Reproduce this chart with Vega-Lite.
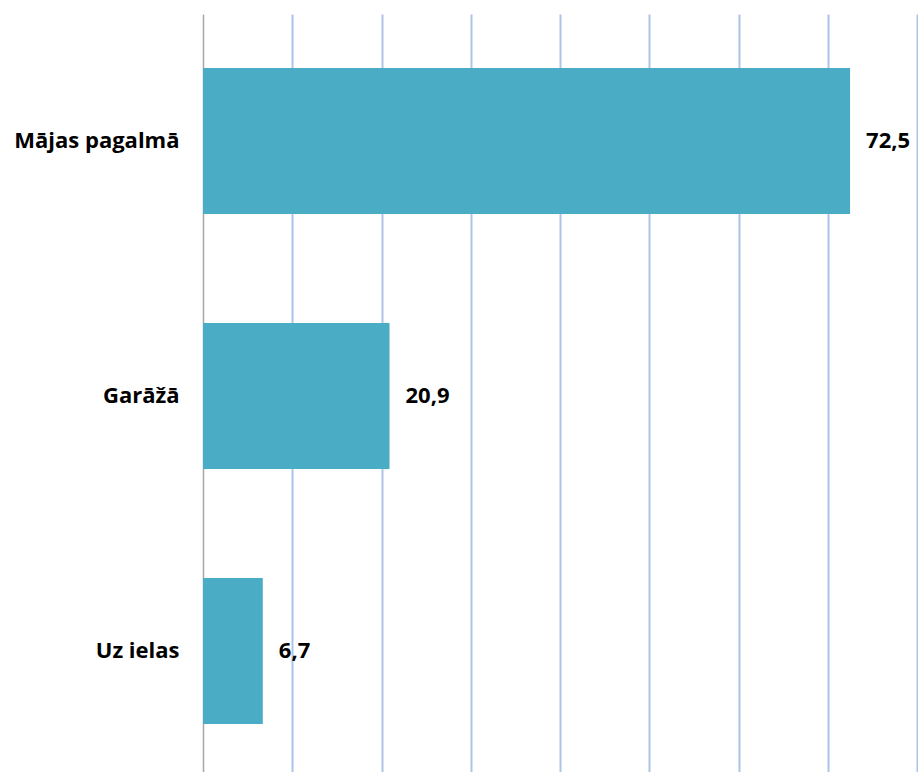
{
  "$schema": "https://vega.github.io/schema/vega-lite/v6.json",
  "autosize": "none",
  "width": 714,
  "height": 764,
  "padding": {"left": 203, "top": 14, "right": 1, "bottom": 0},
  "background": "white",
  "data": {
    "values": [
      {"category": "Mājas pagalmā", "value": 72.5, "label": "72,5"},
      {"category": "Garāžā", "value": 20.9, "label": "20,9"},
      {"category": "Uz ielas", "value": 6.7, "label": "6,7"}
    ]
  },
  "encoding": {
    "y": {
      "field": "category",
      "type": "nominal",
      "sort": null,
      "scale": {"paddingInner": 0.4275, "paddingOuter": 0.2118},
      "axis": {
        "title": null,
        "ticks": false,
        "domain": true,
        "domainColor": "#a6a6a6",
        "domainWidth": 1.5,
        "labelFont": "Open Sans",
        "labelFontWeight": "bold",
        "labelFontSize": 22,
        "labelColor": "#000000",
        "labelPadding": 24
      }
    },
    "x": {
      "field": "value",
      "type": "quantitative",
      "scale": {"domain": [0, 80], "nice": false},
      "axis": {
        "title": null,
        "values": [10, 20, 30, 40, 50, 60, 70, 80],
        "labels": false,
        "ticks": false,
        "domain": false,
        "grid": true,
        "gridColor": "#adc3ea",
        "gridWidth": 2
      }
    }
  },
  "layer": [
    {"mark": {"type": "bar", "color": "#4bacc6"}},
    {
      "mark": {
        "type": "text",
        "align": "left",
        "baseline": "middle",
        "dx": 16,
        "font": "Open Sans",
        "fontWeight": "bold",
        "fontSize": 22,
        "color": "#000000"
      },
      "encoding": {"text": {"field": "label"}}
    }
  ],
  "config": {"view": {"stroke": null}}
}
